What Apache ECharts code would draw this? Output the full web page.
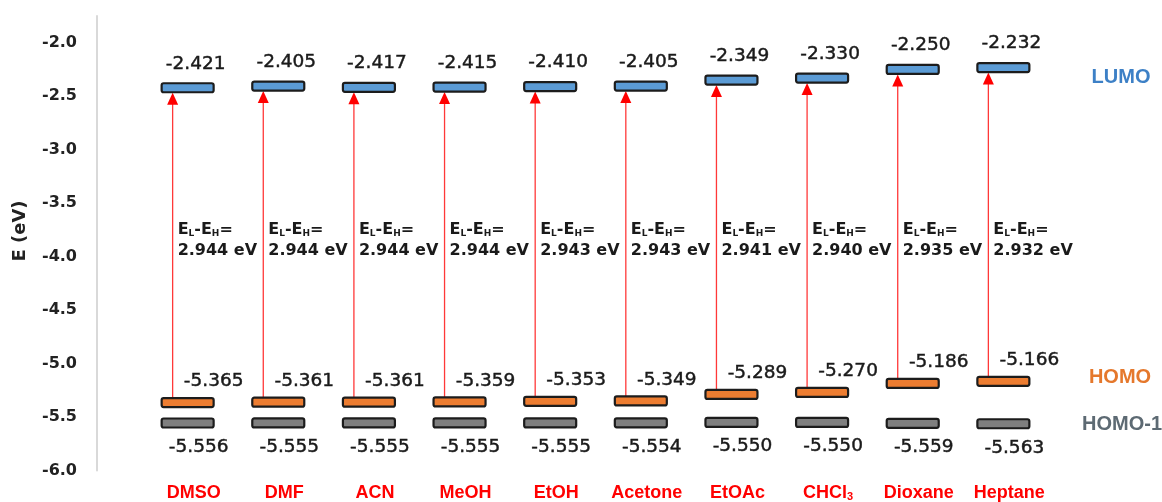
<!DOCTYPE html>
<html>
<head>
<meta charset="utf-8">
<script src="https://cdn.jsdelivr.net/npm/echarts@6/dist/echarts.min.js"></script>
<style>
  html, body { margin: 0; padding: 0; background: #ffffff; }
  #chart { width: 1162px; height: 502px; }
</style>
</head>
<body>
<div id="chart"></div>
<script>
// Frontier orbital energies (eV) in each solvent
const solvents = ['DMSO', 'DMF', 'ACN', 'MeOH', 'EtOH', 'Acetone', 'EtOAc', 'CHCl3', 'Dioxane', 'Heptane'];
const lumo  = [-2.421, -2.405, -2.417, -2.415, -2.410, -2.405, -2.349, -2.330, -2.250, -2.232];
const homo  = [-5.365, -5.361, -5.361, -5.359, -5.353, -5.349, -5.289, -5.270, -5.186, -5.166];
const homo1 = [-5.556, -5.555, -5.555, -5.555, -5.555, -5.554, -5.550, -5.550, -5.559, -5.563];
const gap   = [2.944, 2.944, 2.944, 2.944, 2.943, 2.943, 2.941, 2.940, 2.935, 2.932];
const levelNames = ['LUMO', 'HOMO', 'HOMO-1'];

const LEVEL_FONT = 'DejaVu Sans';
const BOLD_FONT = 'DejaVu Sans';
const LABEL_FONT = 'Liberation Sans';
const INK = '#1a1a1a';

// One horizontal level bar per solvent, value printed next to it
function levelSeries(name, values, fill, offset) {
  return {
    type: 'custom',
    name: name,
    data: values.map((v, i) => [i, v]),
    renderItem: function (params, api) {
      const p = api.coord([api.value(0), api.value(1)]);
      const w = 52, h = 9;
      return {
        type: 'group',
        children: [
          { type: 'rect', shape: { x: p[0] - w / 2, y: p[1] - h / 2, width: w, height: h, r: 2 },
            style: { fill: fill, stroke: '#1c1c1c', lineWidth: 2.2 } },
          { type: 'text', x: p[0] + offset[0], y: p[1] + offset[1],
            style: { text: api.value(1).toFixed(3), fontFamily: LEVEL_FONT, fontSize: 18.5, fill: INK,
                     stroke: INK, lineWidth: 0.45, align: 'center', verticalAlign: 'middle' } }
        ]
      };
    },
    z: 4,
    silent: true
  };
}

// Excitation arrows HOMO -> LUMO with gap annotation
const gapRich = {
  b: { fontFamily: BOLD_FONT, fontWeight: 'bold', fontSize: 16, lineHeight: 20, verticalAlign: 'bottom', fill: INK },
  s: { fontFamily: BOLD_FONT, fontWeight: 'bold', fontSize: 9, lineHeight: 10, verticalAlign: 'bottom', fill: INK }
};

const arrowSeries = {
  type: 'custom',
  name: 'gap',
  data: homo.map((h, i) => [i, h, lumo[i], gap[i]]),
  renderItem: function (params, api) {
    const i = api.value(0);
    const pH = api.coord([i, api.value(1)]);
    const pL = api.coord([i, api.value(2)]);
    const x = pH[0] - 15;
    const yTop = pL[1] + 5;
    const yBot = pH[1] - 4;
    const head = 12;
    const yA = api.coord([i, -3.73])[1];
    const yB = api.coord([i, -3.95])[1];
    return {
      type: 'group',
      children: [
        { type: 'line', shape: { x1: x, y1: yBot, x2: x, y2: yTop + head - 1 },
          style: { stroke: '#ff3838', lineWidth: 1.3 } },
        { type: 'polygon', shape: { points: [[x, yTop], [x - 5.5, yTop + head], [x + 5.5, yTop + head]] },
          style: { fill: '#ff0000' } },
        { type: 'text', x: x + 5, y: yA,
          style: { text: '{b|E}{s|L}{b|-E}{s|H}{b|=}', rich: gapRich, align: 'left', verticalAlign: 'middle' } },
        { type: 'text', x: x + 5, y: yB,
          style: { text: api.value(3).toFixed(3) + ' eV', fontFamily: BOLD_FONT, fontWeight: 'bold', fontSize: 16,
                   fill: INK, align: 'left', verticalAlign: 'middle' } }
      ]
    };
  },
  z: 2,
  silent: true
};

function solventLabel(name) {
  const m = name.match(/^(\D+)(\d+)$/);
  return m ? '{c|' + m[1] + '}{s|' + m[2] + '}' : '{c|' + name + '}';
}

const chart = echarts.init(document.getElementById('chart'), null, { renderer: 'canvas' });
chart.setOption({
  animation: false,
  backgroundColor: '#ffffff',
  grid: { left: 97, right: 68, top: 16, bottom: 31.5, containLabel: false, outerBoundsMode: 'none' },
  xAxis: {
    type: 'value',
    min: -1,
    max: 10,
    interval: 1,
    axisLine: { show: false, onZero: false },
    axisTick: { show: false },
    splitLine: { show: false },
    axisLabel: {
      margin: 10,
      padding: [0, 0, 0, 12],
      formatter: v => (Number.isInteger(v) && solvents[v]) ? solventLabel(solvents[v]) : '',
      rich: {
        c: { fontFamily: LABEL_FONT, fontWeight: 'bold', fontSize: 18, color: '#ff0000', lineHeight: 22, verticalAlign: 'bottom' },
        s: { fontFamily: LABEL_FONT, fontWeight: 'bold', fontSize: 11, color: '#ff0000', lineHeight: 12, verticalAlign: 'bottom' }
      }
    }
  },
  yAxis: {
    type: 'value',
    min: -6,
    max: -1.75,
    interval: 0.5,
    axisLine: { show: true, onZero: false, lineStyle: { color: '#d9d9d9', width: 2 } },
    axisTick: { show: false },
    splitLine: { show: false },
    axisLabel: {
      margin: 20,
      fontFamily: BOLD_FONT,
      fontWeight: 'bold',
      fontSize: 16,
      color: '#222222',
      formatter: v => (Math.abs(v * 2 - Math.round(v * 2)) < 1e-6) ? v.toFixed(1) : ''
    }
  },
  graphic: [
    { type: 'text', x: 20, y: 231, rotation: Math.PI / 2,
      style: { text: 'E (eV)', fontFamily: BOLD_FONT, fontWeight: 'bold', fontSize: 18, fill: '#222222', align: 'center', verticalAlign: 'middle' } },
    { type: 'text', x: 1121, y: 77,
      style: { text: levelNames[0], fontFamily: LABEL_FONT, fontWeight: 'bold', fontSize: 20, fill: '#3d80c6', align: 'center', verticalAlign: 'middle' } },
    { type: 'text', x: 1120, y: 377,
      style: { text: levelNames[1], fontFamily: LABEL_FONT, fontWeight: 'bold', fontSize: 20, fill: '#e5782c', align: 'center', verticalAlign: 'middle' } },
    { type: 'text', x: 1122, y: 424,
      style: { text: levelNames[2], fontFamily: LABEL_FONT, fontWeight: 'bold', fontSize: 20, fill: '#5d6a73', align: 'center', verticalAlign: 'middle' } }
  ],
  series: [
    arrowSeries,
    levelSeries('LUMO', lumo, '#5b9bd5', [8, -24]),
    levelSeries('HOMO', homo, '#ed7d31', [26, -21]),
    levelSeries('HOMO-1', homo1, '#7f7f7f', [11, 24])
  ]
});
</script>
</body>
</html>
